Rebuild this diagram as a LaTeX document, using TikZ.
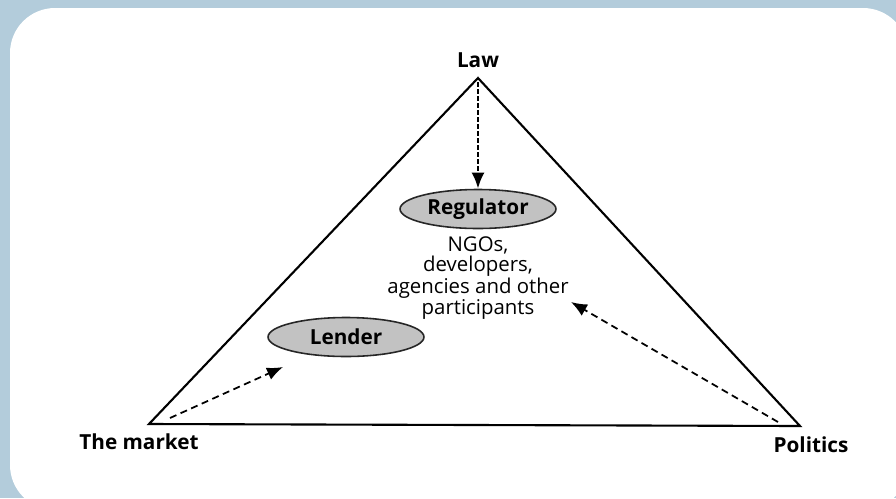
\documentclass[tikz,border=0pt]{standalone}
\usepackage{fontspec}
\setmainfont{Open Sans}
\usetikzlibrary{shapes.geometric,arrows.meta}
\definecolor{framebg}{HTML}{B3CCDB}
\definecolor{actorfill}{HTML}{C2C2C2}

\tikzset{
  actor/.style={ellipse,draw=black!85,line width=0.9pt,fill=actorfill,
    minimum width=3.12cm,minimum height=0.78cm,inner sep=0pt,
    font=\fontsize{11.8}{13}\selectfont\bfseries},
  cornerlabel/.style={font=\fontsize{11.8}{13}\selectfont\bfseries,inner sep=1pt},
  influence/.style={dashed,dash pattern=on 4pt off 2.6pt,line width=1pt,
    -{Latex[length=3.2mm,width=2.6mm]}}
}

\begin{document}
\begin{tikzpicture}[x=0.02cm,y=-0.02cm]
    \useasboundingbox (0,0) rectangle (896,498);
    \fill[framebg] (0,0) rectangle (896,498);
    \fill[white,rounded corners=0.9cm] (10,8) rectangle (908,510);

    \coordinate (law) at (478,78);
    \coordinate (market) at (149,424);
    \coordinate (politics) at (800,426);
    \draw[line width=1.2pt,line join=miter] (law) -- (market) -- (politics) -- cycle;

    \node[cornerlabel] (lawlabel) at (478,60) {Law};
    \node[cornerlabel] (marketlabel) at (139,442) {The market};
    \node[cornerlabel] (politicslabel) at (811,445) {Politics};

    \node[actor] (regulator) at (478,209) {Regulator};
    \node[actor] (lender) at (346,337) {Lender};
    \node[align=center,inner sep=0pt,font=\fontsize{11.6}{10.3}\selectfont] (others) at (478,278)
      {NGOs,\\developers,\\agencies and other\\participants};

    \coordinate (marketfrom) at (170,418);
    \coordinate (marketto) at (283,367);
    \coordinate (politicsfrom) at (778,422);
    \coordinate (politicsto) at (571,302);
    \coordinate (lawfrom) at (478,82);

    \draw[influence,dash pattern=on 2.6pt off 1.4pt,line width=1.5pt] (lawfrom) -- (regulator.north);
    \draw[influence] (marketfrom) -- (marketto);
    \draw[influence] (politicsfrom) -- (politicsto);
\end{tikzpicture}
\end{document}
